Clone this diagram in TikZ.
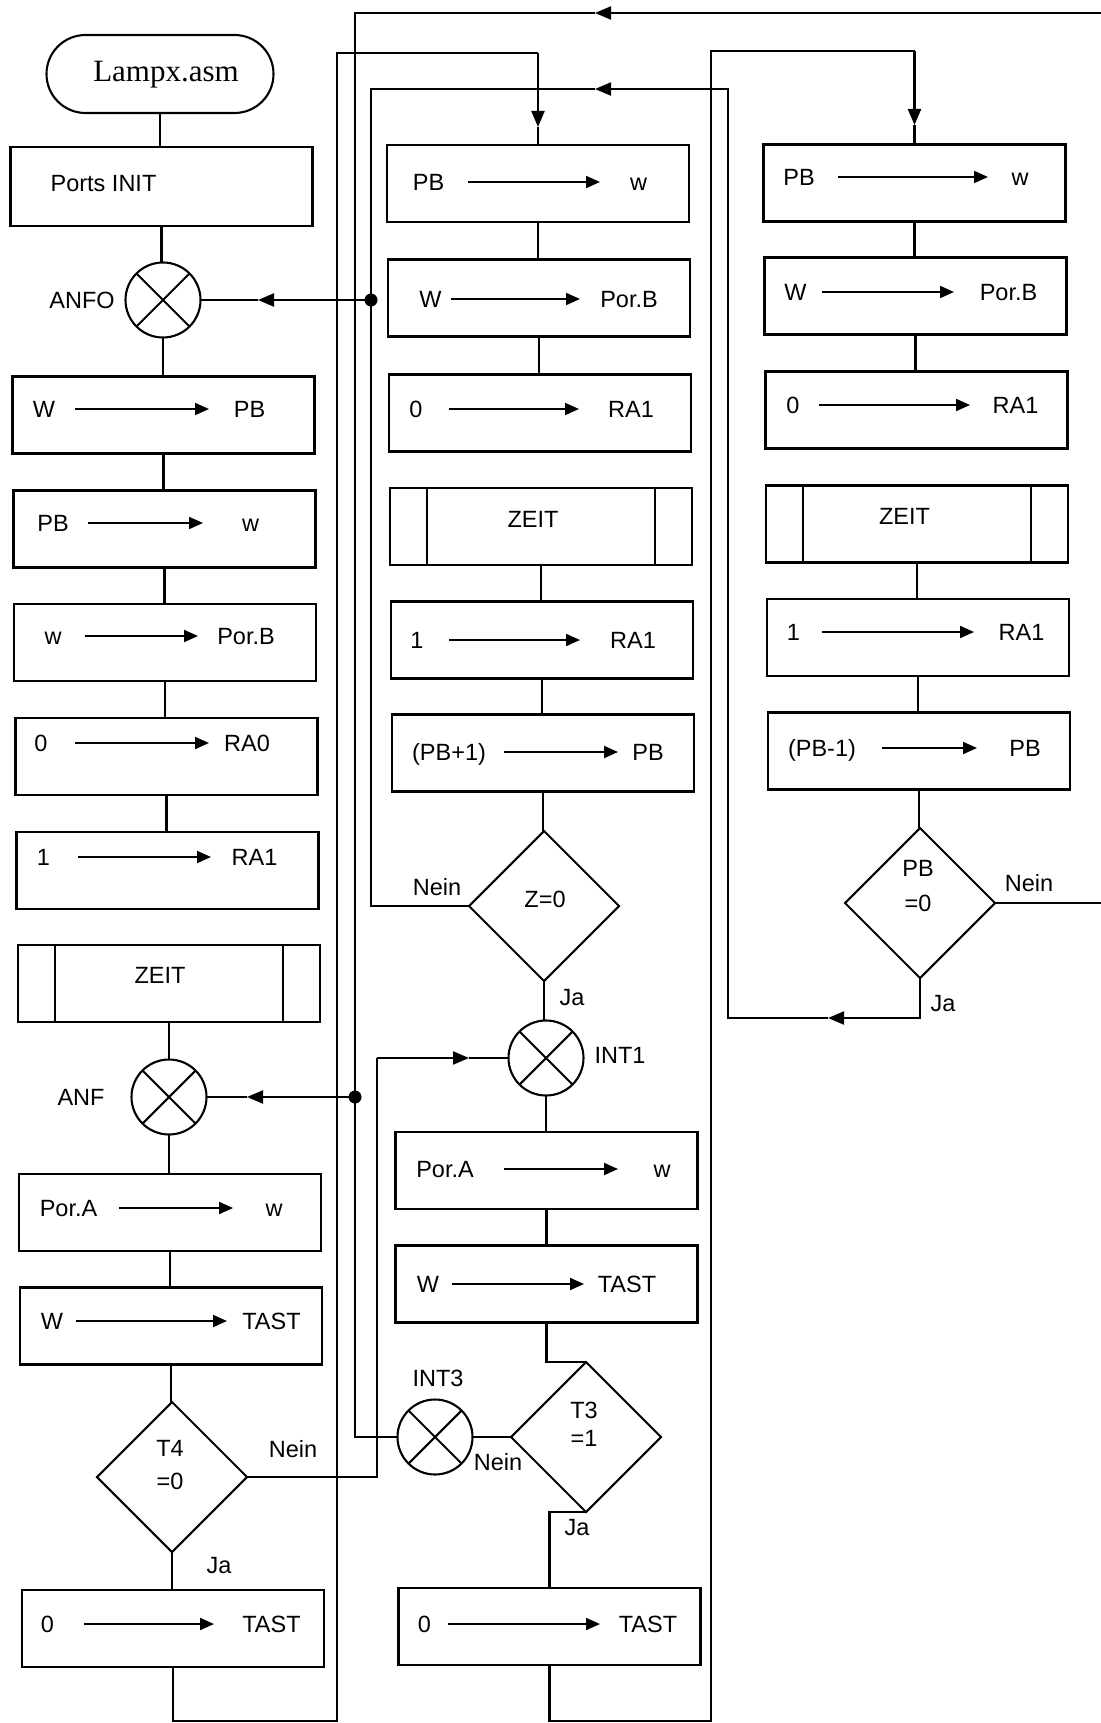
\documentclass[tikz,border=0pt]{standalone}
\usepackage{fontspec}
\setmainfont{Liberation Sans}
\newfontfamily\termfont{Liberation Serif}
\usetikzlibrary{shapes.geometric,arrows.meta,calc}
\newcommand\bx[3]{\node[box] (#1) at (#2,#3) {};}
\newcommand\rowtxt[8]{%
  \node[lab] (#1l) at (#4,#2) {#3};
  \node[lab] (#1r) at (#8,#2) {#7};
  \coordinate (#1s) at (#5,#2);
  \coordinate (#1e) at (#6,#2);
  \draw[intip] (#1s) -- (#1e);}
\newcommand\vc[2]{\draw (#1.south) -- (#1.south |- #2.north);}
\newcommand\xc[1]{\draw (#1.45) -- (#1.225) (#1.135) -- (#1.315);}
\newcommand\zbars[1]{\draw ([xshift=37pt]#1.north west) -- ([xshift=37pt]#1.south west)
  ([xshift=-37pt]#1.north east) -- ([xshift=-37pt]#1.south east);}
\begin{document}
\begin{tikzpicture}[x=1pt,y=-1pt,
  line width=2.1pt,
  every node/.style={font=\fontsize{23.5}{28}\selectfont},
  box/.style={draw,rectangle,minimum width=302pt,minimum height=77pt,inner sep=0pt,outer sep=0pt},
  xcirc/.style={draw,circle,minimum size=75pt,inner sep=0pt,outer sep=0pt},
  dia/.style={draw,diamond,minimum width=150pt,minimum height=150pt,inner sep=0pt,outer sep=0pt},
  lab/.style={inner sep=0pt,outer sep=0pt,text height=16.8pt,text depth=0pt},
  arr/.style={-{Triangle[length=16pt,width=13pt]}},
  intip/.style={line width=2pt,-{Triangle[length=14pt,width=12pt]}},
  jdot/.style={circle,fill,inner sep=0pt,minimum size=13pt}
]
\useasboundingbox (0,0) rectangle (1100,1723);

% ---------------- column 1 ----------------
\node[draw,rounded corners=39pt,minimum width=227pt,minimum height=78pt,inner sep=0pt,outer sep=0pt] (term) at (160,74) {};
\node[inner sep=0pt,text height=20.5pt,text depth=0pt,font=\termfont\fontsize{31}{36}\selectfont] (termt) at (166,71) {Lampx.asm};

\node[box,minimum height=79pt] (ports) at (161.5,186.5) {};
\node[lab] (portst) at (103.5,183) {Ports INIT};

\node[xcirc] (ANFO) at (163,300) {}; \xc{ANFO}
\node[lab] (lANFO) at (82,300) {ANFO};

\bx{c1a}{163.5}{415}   \rowtxt{c1a}{409}{W}{44}{75}{209}{PB}{249.5}
\bx{c1b}{164.5}{529}   \rowtxt{c1b}{523}{PB}{53}{88}{203}{w}{250.5}
\bx{c1c}{165}{642.5}   \rowtxt{c1c}{636}{w}{53}{85}{198}{Por.B}{246}
\bx{c1d}{166.5}{756.5} \rowtxt{c1d}{743}{0}{41}{75}{209}{RA0}{247}
\bx{c1e}{167.5}{870.5} \rowtxt{c1e}{857}{1}{43.5}{78}{211}{RA1}{254.5}
\bx{c1z}{169}{983.5}   \zbars{c1z}
\node[lab] (c1zt) at (160,975) {ZEIT};

\node[xcirc] (ANF) at (169,1097) {}; \xc{ANF}
\node[lab] (lANF) at (81,1097) {ANF};

\bx{c1f}{170}{1212.5}  \rowtxt{c1f}{1208}{Por.A}{68.5}{119}{233}{w}{274}
\bx{c1g}{171}{1326}    \rowtxt{c1g}{1321}{W}{52}{76}{227}{TAST}{271.5}

\node[dia] (T4) at (172,1477) {};
\node[lab] (T4a) at (170,1448) {T4};
\node[lab] (T4b) at (170,1481) {=0};
\node[lab] (nT4) at (293,1449) {Nein};
\node[lab] (jT4) at (219,1565) {Ja};

\bx{c1h}{173}{1628.5}  \rowtxt{c1h}{1624}{0}{47.5}{84}{214}{TAST}{271.5}

\vc{term}{ports} \vc{ports}{ANFO} \vc{ANFO}{c1a} \vc{c1a}{c1b} \vc{c1b}{c1c}
\vc{c1c}{c1d} \vc{c1d}{c1e} \vc{c1z}{ANF} \vc{ANF}{c1f} \vc{c1f}{c1g}
\vc{c1g}{T4} \vc{T4}{c1h}

% ---------------- column 2 ----------------
\bx{c2a}{538}{183.5}   \rowtxt{c2a}{182}{PB}{428.5}{468}{600}{w}{638.5}
\bx{c2b}{539}{298}     \rowtxt{c2b}{299}{W}{430.5}{451}{580}{Por.B}{629}
\bx{c2c}{540}{413}     \rowtxt{c2c}{409}{0}{416}{449}{579}{RA1}{631}
\bx{c2z}{541}{526.5}   \zbars{c2z}
\node[lab] (c2zt) at (533,519) {ZEIT};
\bx{c2d}{542}{640}     \rowtxt{c2d}{640}{1}{417}{449}{580}{RA1}{633}
\bx{c2e}{543}{753}     \rowtxt{c2e}{752}{(PB+1)}{449}{504}{618}{PB}{648}

\node[dia] (Z) at (544,906) {};
\node[lab] (Zt) at (545,899) {Z=0};
\node[lab] (nZ) at (437,887) {Nein};
\node[lab] (jZ) at (572,997) {Ja};

\node[xcirc] (INT1) at (546,1058) {}; \xc{INT1}
\node[lab] (lINT1) at (620,1055) {INT1};

\bx{c2f}{546.5}{1170.5} \rowtxt{c2f}{1169}{Por.A}{445}{504}{618}{w}{662}
\bx{c2g}{546.5}{1284}   \rowtxt{c2g}{1284}{W}{428}{452}{584}{TAST}{627}

\node[dia] (T3) at (586,1437) {};
\node[lab] (T3a) at (584,1410) {T3};
\node[lab] (T3b) at (584,1438) {=1};
\node[lab] (nT3) at (498,1462) {Nein};
\node[lab] (jT3) at (577,1527) {Ja};

\node[xcirc] (INT3) at (435,1437) {}; \xc{INT3}
\node[lab] (lINT3) at (438,1378) {INT3};

\bx{c2h}{549.5}{1626.5} \rowtxt{c2h}{1624}{0}{424.5}{448}{600}{TAST}{648}

\vc{c2a}{c2b} \vc{c2b}{c2c} \vc{c2z}{c2d} \vc{c2d}{c2e} \vc{c2e}{Z}
\vc{Z}{INT1} \vc{INT1}{c2f} \vc{c2f}{c2g}
\draw (c2g.south) |- (T3.north);
\draw (T3.south) -| (c2h.north);
\draw (T3.west) -- (INT3.east);

% ---------------- column 3 ----------------
\bx{c3a}{914.5}{183}   \rowtxt{c3a}{177}{PB}{799}{838}{988}{w}{1020}
\bx{c3b}{915.5}{296}   \rowtxt{c3b}{292}{W}{795.5}{822}{954}{Por.B}{1008.5}
\bx{c3c}{916.5}{410}   \rowtxt{c3c}{405}{0}{793}{819}{970}{RA1}{1015.5}
\bx{c3z}{917}{524}     \zbars{c3z}
\node[lab] (c3zt) at (904.5,516) {ZEIT};
\bx{c3d}{918}{637.5}   \rowtxt{c3d}{632}{1}{793.5}{822}{974}{RA1}{1021.5}
\bx{c3e}{919}{751}     \rowtxt{c3e}{748}{(PB-1)}{822}{882}{977}{PB}{1025}

\node[dia] (PBz) at (920,903) {};
\node[lab] (PBza) at (918,868) {PB};
\node[lab] (PBzb) at (918,903) {=0};
\node[lab] (nP) at (1029,883) {Nein};
\node[lab] (jP) at (943,1003) {Ja};

\vc{c3a}{c3b} \vc{c3b}{c3c} \vc{c3z}{c3d} \vc{c3d}{c3e} \vc{c3e}{PBz}

% ---------------- long connectors ----------------
\coordinate (d1) at (371,300);
\coordinate (d2) at (355,1097);
\node[jdot] (dot1) at (d1) {};
\node[jdot] (dot2) at (d2) {};

% col1 end -> col2 start
\coordinate (v1b) at (337,1721);
\coordinate (t53) at (538,53);
\coordinate (c2tip) at (538,127);
\draw (c1h.south) |- (v1b) |- (t53);
\draw[arr] (t53) -- (c2tip);
\draw (c2tip) -- (c2a.north);

% col2 end -> col3 start
\coordinate (lb) at (711,1721);
\coordinate (t51) at (914.5,51);
\coordinate (c3tip) at (914.5,125);
\draw (c2h.south) |- (lb) |- (t51);
\draw[arr] (t51) -- (c3tip);
\draw (c3tip) -- (c3a.north);

% PB=0 Ja -> ANFO
\coordinate (jtip) at (828,1018);
\coordinate (rb) at (728,1018);
\coordinate (t89) at (595,89);
\coordinate (anfotip) at (258,300);
\draw[arr] (PBz.south) |- (jtip);
\draw[arr] (jtip) -- (rb) |- (t89);
\draw (t89) -| (dot1.center);
\draw[arr] (dot1.center) -- (anfotip);
\draw (anfotip) -- (ANFO.east);
\draw (Z.west) -| (dot1.center);

% PB=0 Nein -> ANF (runs along the cut-off right edge)
\coordinate (e1) at (1103,903);
\coordinate (t13) at (595,13);
\coordinate (anftip) at (247,1097);
\draw[arr] (PBz.east) -- (e1) |- (t13);
\draw (t13) -| (dot2.center);
\draw[arr] (dot2.center) -- (anftip);
\draw (anftip) -- (ANF.east);
\draw (INT3.west) -| (dot2.center);

% T4 Nein -> INT1
\coordinate (c5) at (377,1058);
\coordinate (i1tip) at (469,1058);
\draw (T4.east) -| (c5);
\draw[arr] (c5) -- (i1tip);
\draw (i1tip) -- (INT1.west);
\end{tikzpicture}
\end{document}
